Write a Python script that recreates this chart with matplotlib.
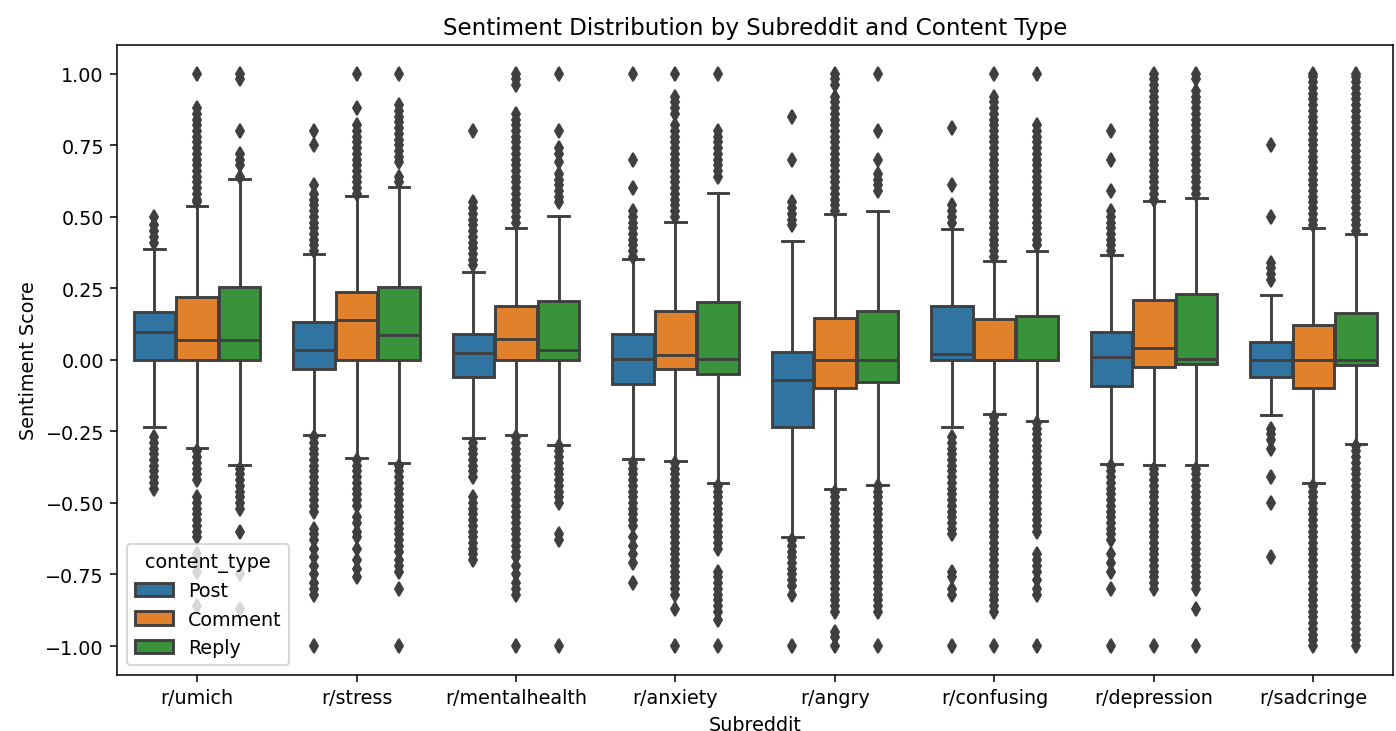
import matplotlib
matplotlib.use("Agg")
import matplotlib.pyplot as plt
from matplotlib.patches import Patch

subreddits = ["r/umich", "r/stress", "r/mentalhealth", "r/anxiety",
              "r/angry", "r/confusing", "r/depression", "r/sadcringe"]
content_types = ["Post", "Comment", "Reply"]
colors = ["#3274a1", "#e1812c", "#3a923a"]
gray = "#3f3f3f"

# box statistics, one row per subreddit: [Post, Comment, Reply]
q1 = [[0.0, 0.0, 0.0], [-0.033, 0.0, 0.0], [-0.06, 0.0, 0.0], [-0.086, -0.033, -0.05],
      [-0.233, -0.097, -0.079], [0.0, 0.0, 0.0], [-0.093, -0.024, -0.014], [-0.059, -0.10, -0.017]]
med = [[0.097, 0.071, 0.071], [0.036, 0.139, 0.086], [0.024, 0.074, 0.036], [0.003, 0.017, 0.004],
       [-0.069, 0.0, 0.0], [0.021, 0.0, 0.0], [0.01, 0.043, 0.003], [0.0, 0.0, 0.0]]
q3 = [[0.167, 0.221, 0.253], [0.133, 0.236, 0.254], [0.09, 0.19, 0.207], [0.089, 0.171, 0.204],
      [0.026, 0.146, 0.171], [0.19, 0.143, 0.154], [0.096, 0.21, 0.231], [0.061, 0.121, 0.164]]
whislo = [[-0.233, -0.307, -0.369], [-0.261, -0.343, -0.361], [-0.274, -0.261, -0.296], [-0.347, -0.354, -0.429],
          [-0.619, -0.45, -0.436], [-0.233, -0.19, -0.214], [-0.364, -0.369, -0.369], [-0.193, -0.429, -0.293]]
whishi = [[0.389, 0.539, 0.631], [0.369, 0.571, 0.604], [0.307, 0.461, 0.503], [0.353, 0.483, 0.583],
          [0.414, 0.51, 0.521], [0.456, 0.346, 0.381], [0.367, 0.554, 0.564], [0.226, 0.461, 0.441]]

# outliers
fliers = [
    [  # r/umich
        [0.50, 0.47, 0.45, 0.43, 0.41, -0.27, -0.29, -0.31, -0.33, -0.35, -0.37, -0.39, -0.41, -0.43, -0.45],
        [1.0, 0.88, 0.86, 0.84, 0.82, 0.80, 0.78, 0.76, 0.74, 0.72, 0.70, 0.68, 0.66, 0.64, 0.62, 0.60, 0.58,
         0.56, 0.55, -0.32, -0.34, -0.36, -0.38, -0.40, -0.42, -0.48, -0.50, -0.52, -0.54, -0.56, -0.58,
         -0.60, -0.62, -0.68, -0.71, -0.74, -0.86],
        [1.0, 0.98, 0.80, 0.72, 0.70, 0.68, 0.64, -0.38, -0.40, -0.42, -0.44, -0.46, -0.48, -0.50, -0.52,
         -0.60, -0.75, -0.87],
    ],
    [  # r/stress
        [0.80, 0.75, 0.61, 0.58, 0.56, 0.54, 0.52, 0.50, 0.48, 0.46, 0.44, 0.42, 0.40, 0.38, -0.27, -0.29,
         -0.31, -0.33, -0.35, -0.37, -0.39, -0.41, -0.43, -0.45, -0.47, -0.49, -0.51, -0.53, -0.59, -0.61,
         -0.63, -0.66, -0.69, -0.72, -0.75, -0.78, -0.80, -0.82, -1.0],
        [1.0, 0.88, 0.82, 0.80, 0.78, 0.76, 0.74, 0.72, 0.70, 0.68, 0.66, 0.64, 0.62, 0.60, 0.58, -0.35,
         -0.37, -0.39, -0.41, -0.43, -0.45, -0.47, -0.49, -0.51, -0.55, -0.57, -0.60, -0.62, -0.66, -0.70,
         -0.73, -0.76],
        [1.0, 0.89, 0.87, 0.85, 0.83, 0.81, 0.79, 0.77, 0.75, 0.73, 0.71, 0.69, 0.64, 0.62, -0.37, -0.39,
         -0.41, -0.43, -0.45, -0.47, -0.49, -0.51, -0.53, -0.55, -0.57, -0.59, -0.61, -0.63, -0.65, -0.67,
         -0.70, -0.72, -0.74, -0.80, -1.0],
    ],
    [  # r/mentalhealth
        [0.80, 0.55, 0.53, 0.51, 0.49, 0.47, 0.45, 0.43, 0.41, 0.39, 0.37, 0.35, 0.33, -0.29, -0.31, -0.33,
         -0.35, -0.37, -0.39, -0.41, -0.48, -0.50, -0.52, -0.54, -0.56, -0.58, -0.60, -0.62, -0.64, -0.66,
         -0.68, -0.70],
        [1.0, 0.98, 0.96, 0.86, 0.84, 0.82, 0.80, 0.78, 0.76, 0.74, 0.72, 0.70, 0.68, 0.66, 0.64, 0.62,
         0.60, 0.58, 0.56, 0.54, 0.52, 0.50, 0.48, -0.27, -0.29, -0.31, -0.33, -0.35, -0.37, -0.39, -0.41,
         -0.43, -0.45, -0.47, -0.49, -0.51, -0.53, -0.55, -0.57, -0.59, -0.61, -0.63, -0.65, -0.67, -0.69,
         -0.72, -0.75, -0.78, -0.80, -0.82, -1.0],
        [1.0, 0.80, 0.74, 0.72, 0.69, 0.65, 0.63, 0.61, 0.59, 0.57, 0.55, -0.30, -0.32, -0.34, -0.36, -0.38,
         -0.40, -0.42, -0.44, -0.46, -0.48, -0.50, -0.61, -0.63, -1.0],
    ],
    [  # r/anxiety
        [1.0, 0.70, 0.60, 0.52, 0.50, 0.48, 0.46, 0.44, 0.42, 0.40, 0.38, 0.36, -0.36, -0.38, -0.40, -0.42,
         -0.44, -0.46, -0.48, -0.50, -0.52, -0.54, -0.56, -0.58, -0.62, -0.65, -0.68, -0.71, -0.78],
        [1.0, 0.92, 0.90, 0.88, 0.86, 0.82, 0.80, 0.78, 0.76, 0.74, 0.72, 0.70, 0.68, 0.66, 0.64, 0.62,
         0.60, 0.58, 0.56, 0.54, 0.52, 0.50, -0.36, -0.38, -0.40, -0.42, -0.44, -0.46, -0.48, -0.50, -0.52,
         -0.54, -0.56, -0.58, -0.60, -0.62, -0.64, -0.66, -0.68, -0.70, -0.72, -0.74, -0.76, -0.78, -0.80,
         -0.82, -0.87, -1.0],
        [1.0, 0.80, 0.78, 0.76, 0.74, 0.72, 0.70, 0.68, 0.66, 0.64, -0.44, -0.46, -0.48, -0.50, -0.52, -0.54,
         -0.56, -0.58, -0.60, -0.62, -0.64, -0.66, -0.74, -0.76, -0.78, -0.80, -0.82, -0.84, -0.86, -0.88,
         -0.91, -1.0],
    ],
    [  # r/angry
        [0.85, 0.70, 0.55, 0.53, 0.51, 0.49, 0.47, -0.63, -0.65, -0.67, -0.69, -0.71, -0.73, -0.75, -0.77,
         -0.79, -0.82, -1.0],
        [1.0, 0.98, 0.96, 0.92, 0.90, 0.88, 0.86, 0.84, 0.82, 0.80, 0.78, 0.76, 0.74, 0.72, 0.70, 0.68,
         0.66, 0.64, 0.62, 0.60, 0.58, 0.56, 0.54, 0.52, -0.46, -0.48, -0.50, -0.52, -0.54, -0.56, -0.58,
         -0.60, -0.62, -0.64, -0.66, -0.68, -0.70, -0.72, -0.74, -0.76, -0.78, -0.80, -0.82, -0.84, -0.86,
         -0.88, -0.95, -0.97, -1.0],
        [1.0, 0.80, 0.70, 0.65, 0.63, 0.61, 0.59, -0.44, -0.46, -0.48, -0.50, -0.52, -0.54, -0.56, -0.58,
         -0.60, -0.62, -0.64, -0.66, -0.68, -0.70, -0.72, -0.74, -0.76, -0.78, -0.80, -0.82, -0.84, -0.86,
         -0.88, -1.0],
    ],
    [  # r/confusing
        [0.81, 0.61, 0.54, 0.52, 0.50, 0.48, -0.27, -0.29, -0.31, -0.33, -0.35, -0.37, -0.39, -0.41, -0.43,
         -0.45, -0.47, -0.49, -0.51, -0.53, -0.55, -0.57, -0.59, -0.61, -0.74, -0.76, -0.80, -0.82, -1.0],
        [1.0, 0.92, 0.90, 0.88, 0.86, 0.84, 0.82, 0.80, 0.78, 0.76, 0.74, 0.72, 0.70, 0.68, 0.66, 0.64,
         0.62, 0.60, 0.58, 0.56, 0.54, 0.52, 0.50, 0.48, 0.46, 0.44, 0.42, 0.40, 0.38, 0.36, -0.20, -0.22,
         -0.24, -0.26, -0.28, -0.30, -0.32, -0.34, -0.36, -0.38, -0.40, -0.42, -0.44, -0.46, -0.48, -0.50,
         -0.52, -0.54, -0.56, -0.58, -0.60, -0.62, -0.64, -0.66, -0.68, -0.70, -0.72, -0.74, -0.76, -0.78,
         -0.80, -0.82, -0.84, -0.86, -0.88, -1.0],
        [1.0, 0.82, 0.80, 0.78, 0.76, 0.74, 0.72, 0.70, 0.68, 0.66, 0.64, 0.62, 0.60, 0.58, 0.56, 0.54,
         0.52, 0.50, 0.48, 0.46, 0.44, 0.42, 0.40, -0.22, -0.24, -0.26, -0.28, -0.30, -0.32, -0.34, -0.36,
         -0.38, -0.40, -0.42, -0.44, -0.46, -0.48, -0.50, -0.52, -0.54, -0.56, -0.58, -0.60, -0.68, -0.70,
         -0.72, -0.74, -0.77, -0.80, -0.82, -1.0],
    ],
    [  # r/depression
        [0.80, 0.70, 0.59, 0.52, 0.50, 0.48, 0.46, 0.44, 0.42, 0.40, 0.38, -0.37, -0.39, -0.41, -0.43,
         -0.45, -0.47, -0.49, -0.51, -0.53, -0.55, -0.57, -0.59, -0.61, -0.63, -0.68, -0.71, -0.74, -0.80,
         -1.0],
        [1.0, 0.98, 0.96, 0.94, 0.92, 0.90, 0.88, 0.86, 0.84, 0.82, 0.80, 0.78, 0.76, 0.74, 0.72, 0.70,
         0.68, 0.66, 0.64, 0.62, 0.60, 0.58, 0.56, -0.38, -0.40, -0.42, -0.44, -0.46, -0.48, -0.50, -0.52,
         -0.54, -0.56, -0.58, -0.60, -0.62, -0.64, -0.66, -0.68, -0.70, -0.72, -0.74, -0.76, -0.78, -0.80,
         -1.0],
        [1.0, 0.98, 0.94, 0.92, 0.90, 0.88, 0.86, 0.84, 0.82, 0.80, 0.78, 0.76, 0.74, 0.72, 0.70, 0.68,
         0.66, 0.64, 0.62, 0.60, 0.58, -0.38, -0.40, -0.42, -0.44, -0.46, -0.48, -0.50, -0.52, -0.54, -0.56,
         -0.58, -0.60, -0.62, -0.64, -0.66, -0.68, -0.70, -0.72, -0.74, -0.76, -0.78, -0.80, -0.87, -1.0],
    ],
    [  # r/sadcringe
        [0.75, 0.50, 0.34, 0.32, 0.30, 0.28, -0.24, -0.26, -0.28, -0.31, -0.41, -0.50, -0.69],
        [1.0, 0.99, 0.97, 0.95, 0.93, 0.91, 0.89, 0.87, 0.85, 0.83, 0.81, 0.79, 0.77, 0.75, 0.73, 0.71,
         0.69, 0.67, 0.65, 0.63, 0.61, 0.59, 0.57, 0.55, 0.53, 0.51, 0.49, 0.47, -0.44, -0.46, -0.48,
         -0.50, -0.52, -0.54, -0.56, -0.58, -0.60, -0.62, -0.64, -0.66, -0.68, -0.70, -0.72, -0.74, -0.76,
         -0.78, -0.80, -0.82, -0.84, -0.86, -0.88, -0.90, -0.92, -0.94, -0.96, -0.98, -1.0],
        [1.0, 0.99, 0.97, 0.95, 0.93, 0.91, 0.89, 0.87, 0.85, 0.83, 0.81, 0.79, 0.77, 0.75, 0.73, 0.71,
         0.69, 0.67, 0.65, 0.63, 0.61, 0.59, 0.57, 0.55, 0.53, 0.51, 0.49, 0.47, 0.45, -0.30, -0.32, -0.34,
         -0.36, -0.38, -0.40, -0.42, -0.44, -0.46, -0.48, -0.50, -0.52, -0.54, -0.56, -0.58, -0.60, -0.62,
         -0.64, -0.66, -0.68, -0.70, -0.72, -0.74, -0.76, -0.78, -0.80, -0.82, -0.84, -0.86, -0.88, -0.90,
         -0.92, -0.94, -0.96, -0.98, -1.0],
    ],
]


def main():
    dpi = 138
    fig, ax = plt.subplots(figsize=(1396 / dpi, 732 / dpi), dpi=dpi)
    fig.subplots_adjust(left=0.084, right=0.998, top=0.937, bottom=0.077)

    group_width = 0.8
    box_w = group_width / len(content_types)
    for j, ctype in enumerate(content_types):
        stats = []
        for i, name in enumerate(subreddits):
            stats.append(dict(q1=q1[i][j], med=med[i][j], q3=q3[i][j],
                              whislo=whislo[i][j], whishi=whishi[i][j],
                              fliers=fliers[i][j], label=name))
        positions = [i - group_width / 2 + box_w * (j + 0.5) for i in range(len(subreddits))]
        ax.bxp(stats, positions=positions, widths=box_w * 0.98, patch_artist=True,
               showfliers=True, manage_ticks=False,
               boxprops=dict(facecolor=colors[j], edgecolor=gray, linewidth=1.5),
               medianprops=dict(color=gray, linewidth=1.5),
               whiskerprops=dict(color=gray, linewidth=1.5),
               capprops=dict(color=gray, linewidth=1.5),
               flierprops=dict(marker="d", markerfacecolor=gray, markeredgecolor=gray,
                               markersize=5.5, linestyle="none"))

    ax.set_xticks(range(len(subreddits)))
    ax.set_xticklabels(subreddits)
    ax.set_xlim(-0.5, len(subreddits) - 0.5)
    ax.set_ylim(-1.1, 1.1)
    ax.set_yticks([-1.0, -0.75, -0.5, -0.25, 0.0, 0.25, 0.5, 0.75, 1.0])
    ax.set_xlabel("Subreddit")
    ax.set_ylabel("Sentiment Score")
    ax.set_title("Sentiment Distribution by Subreddit and Content Type")

    handles = [Patch(facecolor=c, edgecolor=gray, linewidth=1.5, label=t)
               for c, t in zip(colors, content_types)]
    ax.legend(handles=handles, title="content_type", loc="lower left")

    fig.savefig("out.png", dpi=dpi)


if __name__ == "__main__":
    main()
